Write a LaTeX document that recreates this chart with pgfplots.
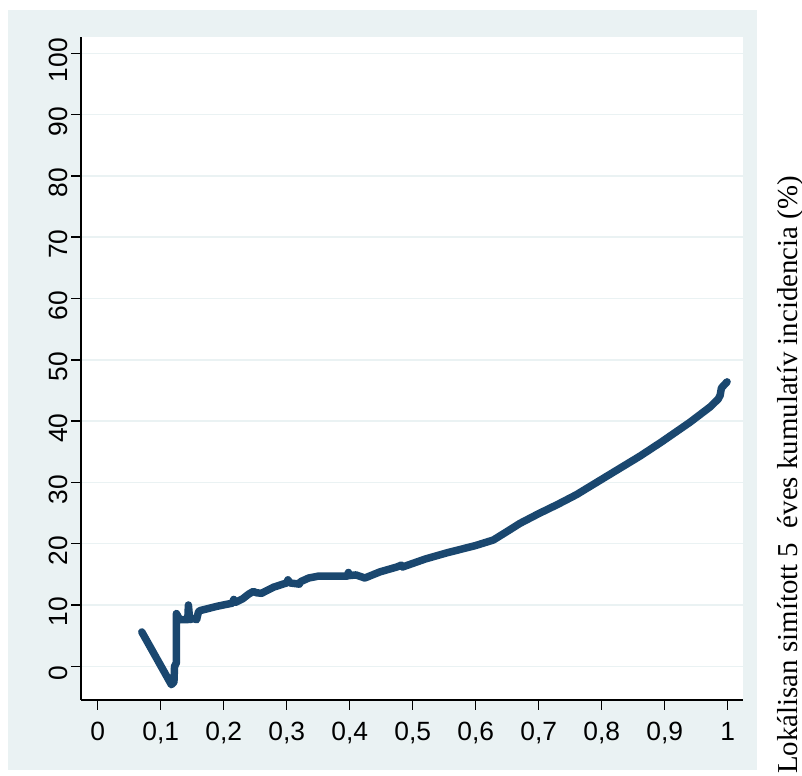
\documentclass[border=0pt]{standalone}
\usepackage{pgfplots}
\pgfplotsset{compat=1.18}
\usepackage{fontspec}
\setmainfont{Liberation Sans}
\newfontfamily\serifface{Liberation Serif}

\definecolor{stbg}{RGB}{234,242,243}
\definecolor{stgrid}{RGB}{234,242,243}
\definecolor{stnavy}{RGB}{26,71,111}

\pgfplotstableread{
x      y
0.070  5.6
0.117  -3.0
0.121  -2.6
0.122  0.0
0.125  0.6
0.125  8.6
0.130  7.6
0.143  7.6
0.144  10.0
0.146  7.6
0.152  7.8
0.157  7.6
0.160  8.9
0.163  9.1
0.190  9.8
0.214  10.3
0.216  10.9
0.218  10.4
0.230  11.0
0.240  11.8
0.247  12.2
0.252  12.0
0.260  11.9
0.279  12.9
0.300  13.6
0.302  14.1
0.305  13.6
0.320  13.4
0.322  13.8
0.335  14.4
0.350  14.7
0.396  14.7
0.398  15.3
0.400  14.8
0.410  14.9
0.424  14.4
0.448  15.4
0.475  16.2
0.482  16.5
0.484  16.2
0.520  17.5
0.554  18.5
0.600  19.7
0.628  20.6
0.650  22.0
0.670  23.3
0.700  24.9
0.730  26.4
0.760  28.0
0.800  30.5
0.861  34.3
0.895  36.6
0.940  39.8
0.972  42.3
0.985  43.6
0.988  44.2
0.990  45.4
0.999  46.4
}\incidence

\begin{document}
\begin{tikzpicture}[x=1bp,y=1bp]
  \useasboundingbox (0,0) rectangle (802,776);
  % graph region background
  \fill[stbg] (8,6) rectangle (757,766);
  \begin{axis}[
    at={(81bp,76bp)}, anchor=south west,
    x=630bp, y=6.13bp,
    xmin=-0.0265, xmax=1.024,
    ymin=-5.5, ymax=102.6,
    axis background/.style={fill=white},
    axis lines=left,
    axis line style={-, black, line width=1.8bp},
    tick align=outside,
    major tick length=10bp,
    every tick/.style={black, line width=1.5bp},
    xtick={0,0.1,0.2,0.3,0.4,0.5,0.6,0.7,0.8,0.9,1},
    xticklabels={0,{0,1},{0,2},{0,3},{0,4},{0,5},{0,6},{0,7},{0,8},{0,9},1},
    ytick={0,10,...,100},
    ymajorgrids,
    major grid style={stgrid, line width=1.5bp},
    /pgf/number format/assume math mode=true,
    ticklabel style={font=\fontsize{26.5}{30}\selectfont},
    yticklabel style={rotate=90, anchor=south, xshift=-7bp},
    xticklabel style={anchor=north, yshift=-9bp},
    clip=false,
  ]
    \addplot[stnavy, line width=7.5bp, line join=round, line cap=round]
      table[x=x, y=y] {\incidence};
  \end{axis}
  \node[rotate=90, anchor=base, inner sep=0pt,
        font=\serifface\fontsize{29}{33}\selectfont]
    at (797,301) {Lokálisan simított 5\ \ éves kumulatív incidencia (\%)};
\end{tikzpicture}
\end{document}
